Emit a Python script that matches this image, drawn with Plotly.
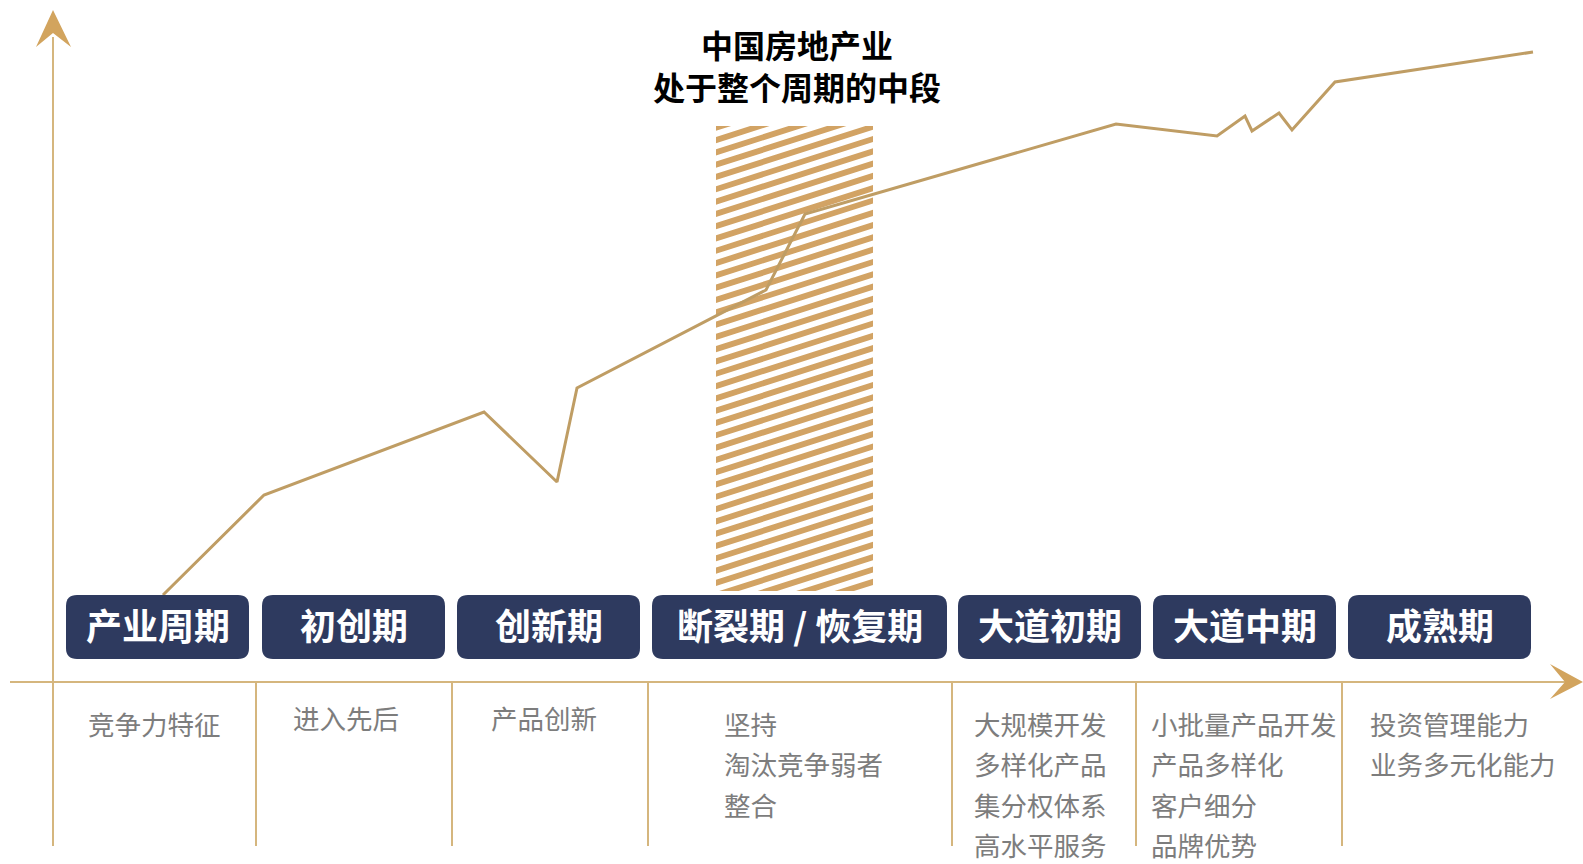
import plotly.graph_objects as go

# ---------------- data ----------------
stage_labels = ["产业周期", "初创期", "创新期", "断裂期 / 恢复期", "大道初期", "大道中期", "成熟期"]
feature_lines = [
    ["竞争力特征"],
    ["进入先后"],
    ["产品创新"],
    ["坚持", "淘汰竞争弱者", "整合"],
    ["大规模开发", "多样化产品", "集分权体系", "高水平服务"],
    ["小批量产品开发", "产品多样化", "客户细分", "品牌优势"],
    ["投资管理能力", "业务多元化能力"],
]
title_lines = ["中国房地产业", "处于整个周期的中段"]
# industry development curve (x: time progression, y: level)
curve_x = [110, 211, 431, 504, 524, 713, 752, 1063, 1164, 1192, 1199, 1226, 1239, 1282, 1480]
curve_y = [87, 187, 270, 200, 294, 392, 468, 558, 546, 566, 551, 569, 552, 600, 630]
highlight_stage = 3

# ---------------- layout geometry ----------------
W, H = 1583, 864
OX, OY = 53, 682          # axis origin in page pixels
X_RANGE = [-OX, W - OX]
Y_RANGE = [OY - H, OY]

box_x = [(13, 196), (209, 392), (404, 587), (599, 894), (905, 1088), (1100, 1283), (1295, 1478)]
box_y = (23, 87)
sep_x = [203, 399, 595, 899, 1083, 1289]
sep_bottom = -164
text_anchor = [("center", 101), ("center", 293), ("center", 491),
               ("left", 669), ("left", 919), ("left", 1096), ("left", 1315)]
text_first_y = [-41, -35, -35, -41, -41, -41, -41]
text_step = 40.5
hatch = dict(x0=663, x1=820, y0=91, y1=556)

AXIS_COL = "#D5B67E"
ARROW_COL = "#D2A45E"
CURVE_COL = "#BF9D64"
HATCH_COL = "#D2A364"
BOX_COL = "#2E3A5F"
GREY = "#7D7D7D"
FONT = "Noto Sans CJK SC"

fig = go.Figure()

# ---- hatch stripes (clipped bands) ----
def clip_half(poly, axis, bound, keep_greater):
    out = []
    n = len(poly)
    for i in range(n):
        P, Q = poly[i], poly[(i + 1) % n]
        pin = P[axis] >= bound if keep_greater else P[axis] <= bound
        qin = Q[axis] >= bound if keep_greater else Q[axis] <= bound
        if pin:
            out.append(P)
        if pin != qin:
            t = (bound - P[axis]) / (Q[axis] - P[axis])
            out.append((P[0] + t * (Q[0] - P[0]), P[1] + t * (Q[1] - P[1])))
    return out

slope, pitch, thick = 0.32, 12.3, 6.2
hx, hy = [], []
x0, x1, y0, y1 = hatch["x0"], hatch["x1"], hatch["y0"], hatch["y1"]
c = y0 - slope * (x1 - x0) - thick
while c < y1:
    poly = [(x0, c), (x1, c + slope * (x1 - x0)),
            (x1, c + slope * (x1 - x0) + thick), (x0, c + thick)]
    poly = clip_half(poly, 1, y0, True)
    if len(poly) >= 3:
        poly = clip_half(poly, 1, y1, False)
    if len(poly) >= 3:
        for p in poly:
            hx.append(p[0]); hy.append(p[1])
        hx.append(poly[0][0]); hy.append(poly[0][1])
        hx.append(None); hy.append(None)
    c += pitch
fig.add_trace(go.Scatter(x=hx, y=hy, mode="lines", fill="toself", fillcolor=HATCH_COL,
                         line=dict(width=0, color=HATCH_COL), hoverinfo="skip", showlegend=False))

# ---- curve ----
fig.add_trace(go.Scatter(x=curve_x, y=curve_y, mode="lines",
                         line=dict(color=CURVE_COL, width=3), hoverinfo="skip", showlegend=False))

shapes = []
# axes
shapes.append(dict(type="line", xref="x", yref="y", x0=0, x1=0, y0=sep_bottom, y1=645,
                   line=dict(color=AXIS_COL, width=2), layer="below"))
shapes.append(dict(type="line", xref="x", yref="y", x0=-43, x1=1515, y0=0, y1=0,
                   line=dict(color=AXIS_COL, width=2), layer="below"))
# arrowheads
top = Y_RANGE[1] - 10
shapes.append(dict(type="path", xref="x", yref="y",
                   path=f"M 0 {top} L 18 {top-37} L 0 {top-23} L -17 {top-37} Z",
                   fillcolor=ARROW_COL, line=dict(width=0)))
right = X_RANGE[1]
shapes.append(dict(type="path", xref="x", yref="y",
                   path=f"M {right} 0 L {right-33} 18 L {right-18} 0 L {right-33} -17 Z",
                   fillcolor=ARROW_COL, line=dict(width=0)))
# separators
for sx in sep_x:
    shapes.append(dict(type="line", xref="x", yref="y", x0=sx, x1=sx, y0=0, y1=sep_bottom,
                       line=dict(color=AXIS_COL, width=2), layer="below"))

# rounded boxes
def rrect(xa, xb, ya, yb, r):
    return (f"M {xa+r} {ya} L {xb-r} {ya} Q {xb} {ya} {xb} {ya+r} "
            f"L {xb} {yb-r} Q {xb} {yb} {xb-r} {yb} L {xa+r} {yb} "
            f"Q {xa} {yb} {xa} {yb-r} L {xa} {ya+r} Q {xa} {ya} {xa+r} {ya} Z")

annotations = []
for (bx0, bx1), lab in zip(box_x, stage_labels):
    shapes.append(dict(type="path", xref="x", yref="y", path=rrect(bx0, bx1, box_y[0], box_y[1], 11),
                       fillcolor=BOX_COL, line=dict(width=0)))
    annotations.append(dict(x=(bx0 + bx1) / 2, y=(box_y[0] + box_y[1]) / 2 + 3, xref="x", yref="y",
                            text=f"<b>{lab}</b>", showarrow=False, xanchor="center", yanchor="middle",
                            font=dict(family=FONT, size=36, color="white")))

# feature texts
for (anc, ax), fy, lines in zip(text_anchor, text_first_y, feature_lines):
    for i, t in enumerate(lines):
        annotations.append(dict(x=ax, y=fy - i * text_step, xref="x", yref="y", text=t,
                                showarrow=False, xanchor=anc, yanchor="middle",
                                font=dict(family=FONT, size=26.5, color=GREY)))

# title
annotations.append(dict(x=743.5, y=617, xref="x", yref="y",
                        text="<br>".join(f"<b>{t}</b>" for t in title_lines),
                        showarrow=False, xanchor="center", yanchor="middle", align="center",
                        font=dict(family=FONT, size=32, color="black")))

fig.update_layout(
    width=W, height=H, margin=dict(l=0, r=0, t=0, b=0),
    paper_bgcolor="white", plot_bgcolor="white",
    xaxis=dict(range=X_RANGE, visible=False, fixedrange=True),
    yaxis=dict(range=Y_RANGE, visible=False, fixedrange=True),
    shapes=shapes, annotations=annotations, showlegend=False,
)
fig.write_html("out.html", config={"displayModeBar": False})
